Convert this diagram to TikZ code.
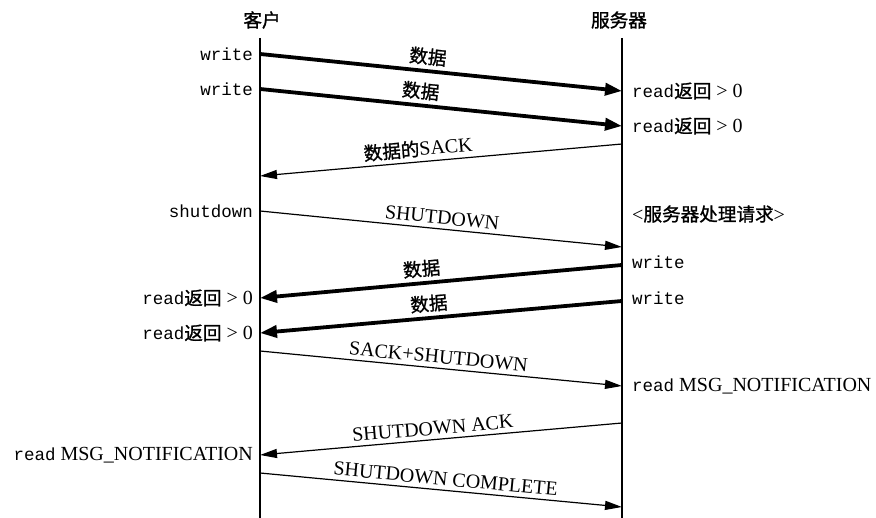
\documentclass[tikz,border=0pt]{standalone}
\usepackage{fontspec}
\setmainfont{Liberation Serif}
\setmonofont[Scale=0.875]{Liberation Mono}
\newfontfamily\cjk[Scale=0.93,FakeBold=1.2]{Noto Sans CJK SC}
\usetikzlibrary{arrows.meta}
\newcommand{\rdret}{{\ttfamily read}{\cjk 返回} > 0}
\begin{document}
\begin{tikzpicture}[x=1pt,y=-1pt,
  every node/.style={font=\fontsize{20}{22}\selectfont, inner sep=2pt},
  life/.style={line width=1.4pt},
  thinmsg/.style={line width=1.2pt,-{Triangle[length=17pt,width=9pt]}},
  thickmsg/.style={line width=3.8pt,-{Triangle[length=17pt,width=12pt]}},
  lbl/.style={sloped,above=2pt},
  lt/.style={anchor=east,xshift=-5pt},
  rt/.style={anchor=west,xshift=8pt}]
\useasboundingbox (0,0) rectangle (876,518);
% titles and lifelines
\node (client) at (262,20) {\cjk 客户};
\node (server) at (619,20) {\cjk 服务器};
\coordinate (ctop) at (260,38);
\coordinate (cbot) at (260,518);
\coordinate (stop) at (622,38);
\coordinate (sbot) at (622,518);
\draw[life] (ctop) -- (cbot);
\draw[life] (stop) -- (sbot);
% points on the lifelines
\coordinate (c1) at (260,54);  \coordinate (s1) at (622,91);
\coordinate (c2) at (260,89);  \coordinate (s2) at (622,126);
\coordinate (s3) at (622,144); \coordinate (c3) at (260,176);
\coordinate (c4) at (260,211); \coordinate (s4) at (622,247);
\coordinate (s5) at (622,265); \coordinate (c5) at (260,298);
\coordinate (s6) at (622,301); \coordinate (c6) at (260,333);
\coordinate (c7) at (260,351); \coordinate (s7) at (622,386);
\coordinate (s8) at (622,423); \coordinate (c8) at (260,455);
\coordinate (c9) at (260,473); \coordinate (s9) at (622,507);
% messages
\draw[thickmsg] (c1) -- node[lbl,pos=0.46]{\cjk 数据} (s1);
\draw[thickmsg] (c2) -- node[lbl,pos=0.44]{\cjk 数据} (s2);
\draw[thinmsg] (s3) -- node[lbl,pos=0.56]{{\cjk 数据的}SACK} (c3);
\draw[thinmsg] (c4) -- node[lbl,pos=0.5]{SHUTDOWN} (s4);
\draw[thickmsg] (s5) -- node[lbl,pos=0.55]{\cjk 数据} (c5);
\draw[thickmsg] (s6) -- node[lbl,pos=0.53]{\cjk 数据} (c6);
\draw[thinmsg] (c7) -- node[lbl,pos=0.49]{SACK+SHUTDOWN} (s7);
\draw[thinmsg] (s8) -- node[lbl,pos=0.52]{SHUTDOWN ACK} (c8);
\draw[thinmsg] (c9) -- node[lbl,pos=0.51]{SHUTDOWN COMPLETE} (s9);
% client side labels
\node[lt] (lw1) at (c1) {\ttfamily write};
\node[lt] (lw2) at (c2) {\ttfamily write};
\node[lt] (lsd) at (c4) {\ttfamily shutdown};
\node[lt] (lr1) at (c5) {\rdret};
\node[lt] (lr2) at (c6) {\rdret};
\node[lt] (lmn) at (c8) {{\ttfamily read} MSG\_NOTIFICATION};
% server side labels
\node[rt] (rr1) at (s1) {\rdret};
\node[rt] (rr2) at (s2) {\rdret};
\coordinate (sproc) at (622,214);
\node[rt] (rproc) at (sproc) {<{\cjk 服务器处理请求}>};
\coordinate (sw1) at (622,262);
\coordinate (sw2) at (622,298);
\node[rt] (rw1) at (sw1) {\ttfamily write};
\node[rt] (rw2) at (sw2) {\ttfamily write};
\node[rt] (rmn) at (s7) {{\ttfamily read} MSG\_NOTIFICATION};
\end{tikzpicture}
\end{document}
